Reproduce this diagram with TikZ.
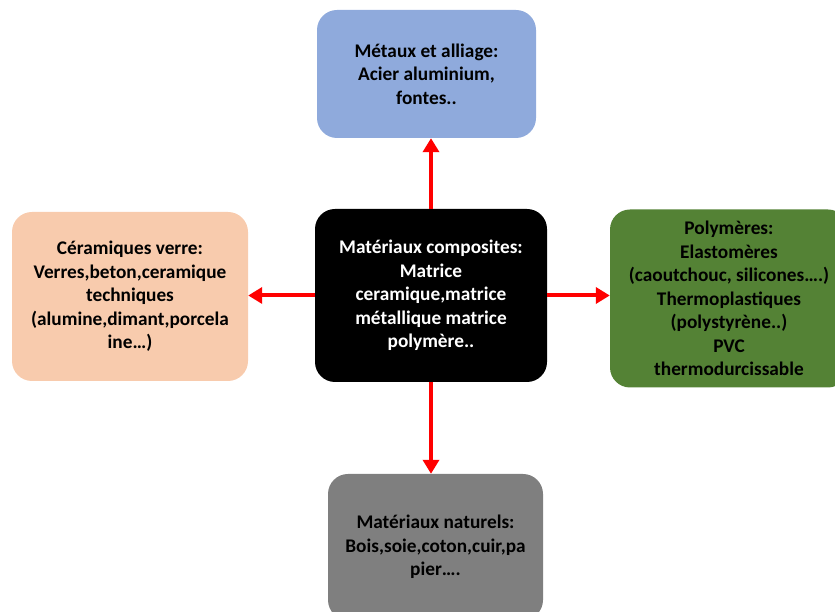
\documentclass[tikz,border=0pt]{standalone}
\usepackage{fontspec}
\setmainfont{Carlito}
\usepackage{xcolor}
\usepackage{tikz}
\usetikzlibrary{positioning, arrows.meta, calc}

\definecolor{metalblue}{HTML}{8FAADC}
\definecolor{cerampeach}{HTML}{F8CBAD}
\definecolor{polygreen}{HTML}{548235}
\definecolor{naturgray}{HTML}{7F7F7F}

\begin{document}
\begin{tikzpicture}[x=1pt, y=1pt,
    matbox/.style={rounded corners=20pt, inner sep=0pt, align=center,
      font=\fontsize{19.3}{23.5}\selectfont\bfseries},
    link/.style={red, line width=4pt, -{Triangle[width=16pt, length=14pt]}}]
      \clip (0,0) rectangle (835,612);

      % composites (centre)
      \node[matbox, fill=black, text=white, minimum width=232pt, minimum height=173pt] (compo) at (431,316.5)
        {Matériaux composites:\\Matrice\\ceramique,matrice\\métallique matrice\\polymère..};

      % metaux
      \node[matbox, fill=metalblue, minimum width=219pt, minimum height=128pt] (metaux) at (426.5,538)
        {Métaux et alliage:\\Acier aluminium,\\fontes..};

      % ceramiques
      \node[matbox, fill=cerampeach, minimum width=236pt, minimum height=169pt] (ceram) at (130,315.5)
        {Céramiques verre:\\Verres,beton,ceramique\\techniques\\(alumine,dimant,porcela\\ine…)};

      % polymeres
      \node[matbox, fill=polygreen, minimum width=238pt, minimum height=178pt] (poly) at (729,313.5)
        {Polymères:\\Elastomères\\(caoutchouc, silicones….)\\Thermoplastiques\\(polystyrène..)\\PVC\\thermodurcissable};

      % naturels
      \node[matbox, fill=naturgray, minimum width=215pt, minimum height=146pt] (natur) at (435.5,65)
        {Matériaux naturels:\\Bois,soie,coton,cuir,pa\\pier….};

      % arrows
      \draw[link] (compo.north) -- (compo.north |- metaux.south);
      \draw[link] (compo.west) -- (compo.west -| ceram.east);
      \draw[link] (compo.east) -- (compo.east -| poly.west);
      \draw[link] (compo.south) -- (compo.south |- natur.north);
    \end{tikzpicture}
\end{document}
